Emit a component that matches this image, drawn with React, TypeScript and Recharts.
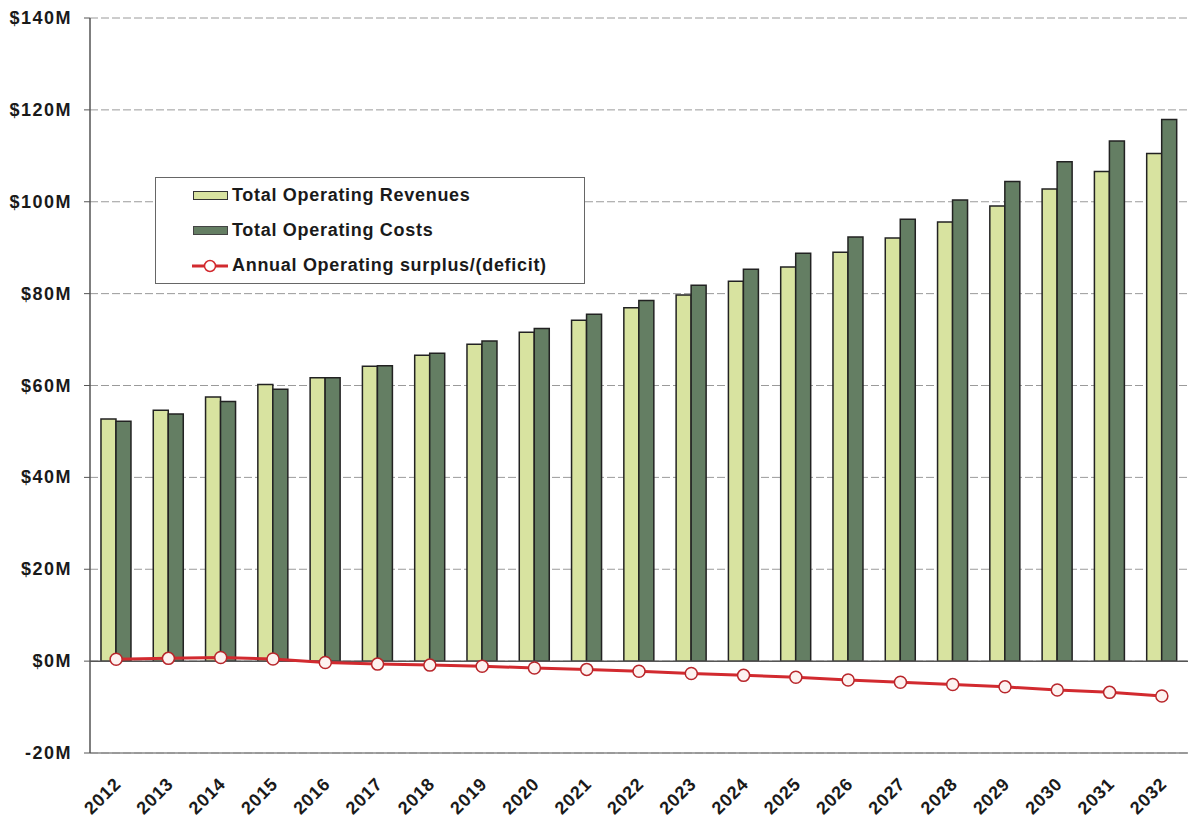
import React from 'react';
import { ComposedChart, Bar, Line, XAxis, YAxis, CartesianGrid, ReferenceLine, Legend } from 'recharts';

const years = ['2012','2013','2014','2015','2016','2017','2018','2019','2020','2021','2022','2023','2024','2025','2026','2027','2028','2029','2030','2031','2032'];
const revenues = [52.7, 54.6, 57.5, 60.2, 61.7, 64.2, 66.6, 69.0, 71.6, 74.2, 76.9, 79.7, 82.7, 85.8, 89.0, 92.1, 95.6, 99.1, 102.8, 106.6, 110.5];
const costs = [52.2, 53.8, 56.5, 59.2, 61.7, 64.3, 67.0, 69.7, 72.4, 75.5, 78.5, 81.8, 85.3, 88.8, 92.3, 96.2, 100.4, 104.4, 108.7, 113.2, 117.9];
const surplus = [0.4, 0.6, 0.8, 0.45, -0.3, -0.65, -0.87, -1.1, -1.5, -1.8, -2.2, -2.7, -3.1, -3.5, -4.1, -4.6, -5.1, -5.6, -6.3, -6.8, -7.6];
const yTicks = [-20, 0, 20, 40, 60, 80, 100, 120, 140];

const data = years.map((y, i) => ({ year: y, revenue: revenues[i], cost: costs[i], surplus: surplus[i] }));

const FONT = '"Liberation Sans", Arial, sans-serif';
const REV = '#d8e3a0';
const COST = '#647e63';
const RED = '#d22a2f';

const fmtY = (v: number) => (v < 0 ? `${v}M` : `$${v}M`);

const XTick = (props: any) => {
  const { x, y, payload } = props;
  const ax = x + 6;
  const ay = y + 24;
  return (
    <text x={ax} y={ay} transform={`rotate(-45, ${ax}, ${ay})`} textAnchor="end" fill="#1a1a1a"
      style={{ fontFamily: FONT, fontWeight: 700, fontSize: 18, letterSpacing: 0.8 }}>
      {payload.value}
    </text>
  );
};

const YTick = (props: any) => {
  const { x, y, payload } = props;
  return (
    <text x={x - 4} y={y} dy={6} textAnchor="end" fill="#1a1a1a"
      style={{ fontFamily: FONT, fontWeight: 700, fontSize: 18, letterSpacing: 1.5 }}>
      {fmtY(payload.value)}
    </text>
  );
};

const LegendBox = () => {
  const row = (swatch: React.ReactNode, label: string) => (
    <div style={{ display: 'flex', alignItems: 'center', height: 37.5 }}>
      <div style={{ width: 38, display: 'flex', alignItems: 'center', justifyContent: 'center', marginRight: 3 }}>{swatch}</div>
      <span style={{ fontFamily: FONT, fontWeight: 700, fontSize: 18, letterSpacing: 0.7, color: '#1a1a1a' }}>{label}</span>
    </div>
  );
  return (
    <div style={{ width: 430, height: 107, boxSizing: 'border-box', border: '1.5px solid #666', background: '#fff', padding: '0 0 0 35px', display: 'flex', flexDirection: 'column', justifyContent: 'center' }}>
      {row(<div style={{ width: 35, height: 9, background: REV, border: '1.5px solid #333', boxSizing: 'border-box' }} />, 'Total Operating Revenues')}
      {row(<div style={{ width: 35, height: 9, background: COST, border: '1px solid #444', boxSizing: 'border-box' }} />, 'Total Operating Costs')}
      {row(
        <svg width={36} height={14}>
          <line x1={0} y1={7} x2={36} y2={7} stroke={RED} strokeWidth={3} />
          <circle cx={18} cy={7} r={5.5} fill="#fff" stroke={RED} strokeWidth={1.5} />
        </svg>,
        'Annual Operating surplus/(deficit)'
      )}
    </div>
  );
};

export default function App() {
  return (
    <div style={{ position: 'absolute', left: 0, top: 0, width: 1190, height: 817, background: '#fff' }}>
      <ComposedChart width={1190} height={817} data={data}
        margin={{ top: 18, right: 2, left: 0, bottom: 4 }}
        barCategoryGap="21%" barGap={0}>
        <CartesianGrid vertical={false} stroke="#9a9a9a" strokeDasharray="8 3" />
        <XAxis dataKey="year" height={60} tick={<XTick />} tickLine={false} axisLine={{ stroke: '#888', strokeWidth: 1.5 }} interval={0} />
        <YAxis width={90} domain={[-20, 140]} ticks={yTicks} allowDataOverflow
          axisLine={{ stroke: '#555', strokeWidth: 1.5 }} tickLine={{ stroke: '#555' }} tickSize={6} tickMargin={8}
          tick={<YTick />} />
        <ReferenceLine y={0} stroke="#555" strokeWidth={1.5} />
        <ReferenceLine x={years[years.length - 1]} stroke="none" />
        <Bar dataKey="revenue" name="Total Operating Revenues" fill={REV} stroke="#222" strokeWidth={1.5} isAnimationActive={false} />
        <Bar dataKey="cost" name="Total Operating Costs" fill={COST} stroke="#222" strokeWidth={1.5} isAnimationActive={false} />
        <Line dataKey="surplus" name="Annual Operating surplus/(deficit)" stroke={RED} strokeWidth={3}
          dot={{ r: 6, fill: '#fdf2f0', stroke: '#b8262b', strokeWidth: 1.5 }} isAnimationActive={false} />
        <Legend content={<LegendBox />} verticalAlign="middle" align="center"
          wrapperStyle={{ position: 'absolute', left: 155, top: 177, width: 430, height: 107 }} />
      </ComposedChart>
    </div>
  );
}
